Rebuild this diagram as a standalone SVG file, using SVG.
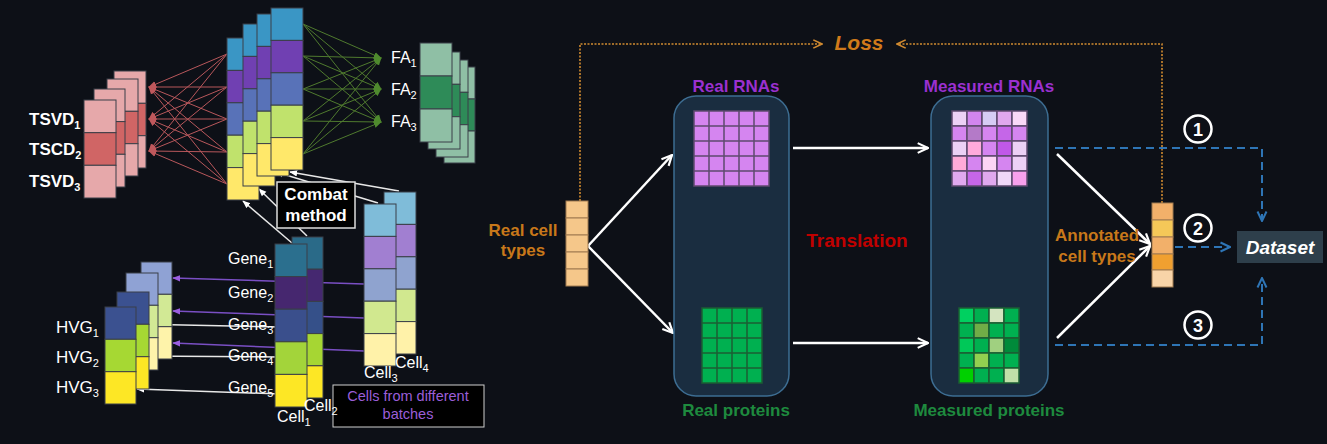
<svg xmlns="http://www.w3.org/2000/svg" width="1327" height="444" viewBox="0 0 1327 444">
<style>
.lbl{font-family:"Liberation Sans",Arial,sans-serif;fill:#fff;font-size:16px}
.b{font-weight:bold}
.sub{font-size:11px}
.seg{stroke:#3a3f48;stroke-width:1}
.rl{stroke:#b8575b;stroke-width:1}
.gl{stroke:#4f7a2e;stroke-width:1}
.wl{stroke:#e8e8e8;stroke-width:1.5;fill:none}
.pl{stroke:#7a4fc4;stroke-width:1.5;fill:none}
.wa{stroke:#fff;stroke-width:2.5;fill:none}
.bd{stroke:#2e75b6;stroke-width:2;stroke-dasharray:8 5;fill:none}
.od{stroke:#d08a30;stroke-width:1.6;stroke-dasharray:2 1.5;fill:none}
.rd{stroke:#c00000;stroke-width:2.5;stroke-dasharray:10 5;fill:none}
.cont{fill:#1a2d40;stroke:#3d6d92;stroke-width:1.5}
.ttl{font-family:"Liberation Sans",Arial,sans-serif;font-weight:bold;font-size:17px;text-anchor:middle}
</style>
<defs>
<marker id="ow" viewBox="0 0 12 12" refX="11" refY="6" markerWidth="13" markerHeight="13" markerUnits="userSpaceOnUse" orient="auto"><path d="M1.5,1.5 L11,6 L1.5,10.5" fill="none" stroke="#fff" stroke-width="2"/></marker>
<marker id="ob" viewBox="0 0 12 12" refX="11" refY="6" markerWidth="12" markerHeight="12" markerUnits="userSpaceOnUse" orient="auto"><path d="M1.5,1.5 L11,6 L1.5,10.5" fill="none" stroke="#2e75b6" stroke-width="2"/></marker>
<marker id="oo" viewBox="0 0 12 12" refX="11" refY="6" markerWidth="11" markerHeight="11" markerUnits="userSpaceOnUse" orient="auto"><path d="M1.5,1.5 L11,6 L1.5,10.5" fill="none" stroke="#d08a30" stroke-width="1.8"/></marker>
<marker id="orr" viewBox="0 0 12 12" refX="11" refY="6" markerWidth="12" markerHeight="12" markerUnits="userSpaceOnUse" orient="auto"><path d="M1.5,1.5 L11,6 L1.5,10.5" fill="none" stroke="#c00000" stroke-width="2.4"/></marker>
<marker id="fr" viewBox="0 0 10 10" refX="9" refY="5" markerWidth="8" markerHeight="8" markerUnits="userSpaceOnUse" orient="auto"><path d="M0,1 L10,5 L0,9 z" fill="#c0585c"/></marker>
<marker id="fg" viewBox="0 0 10 10" refX="9" refY="5" markerWidth="8" markerHeight="8" markerUnits="userSpaceOnUse" orient="auto"><path d="M0,1 L10,5 L0,9 z" fill="#4f8a2e"/></marker>
<marker id="fw" viewBox="0 0 10 10" refX="9" refY="5" markerWidth="8" markerHeight="8" markerUnits="userSpaceOnUse" orient="auto"><path d="M0,1 L10,5 L0,9 z" fill="#fff"/></marker>
<marker id="fp" viewBox="0 0 10 10" refX="9" refY="5" markerWidth="8" markerHeight="8" markerUnits="userSpaceOnUse" orient="auto"><path d="M0,1 L10,5 L0,9 z" fill="#9b5ee0"/></marker>
</defs>
<rect width="1327" height="444" fill="#0d1017"/>

<g id="connectors">
<g class="rl" marker-end="url(#fr)">
<line x1="227" y1="54" x2="149" y2="87"/><line x1="227" y1="87" x2="149" y2="87"/><line x1="227" y1="119" x2="149" y2="87"/><line x1="227" y1="152" x2="149" y2="87"/><line x1="227" y1="184" x2="149" y2="87"/>
<line x1="227" y1="54" x2="149" y2="119"/><line x1="227" y1="87" x2="149" y2="119"/><line x1="227" y1="119" x2="149" y2="119"/><line x1="227" y1="152" x2="149" y2="119"/><line x1="227" y1="184" x2="149" y2="119"/>
<line x1="227" y1="54" x2="149" y2="151"/><line x1="227" y1="87" x2="149" y2="151"/><line x1="227" y1="119" x2="149" y2="151"/><line x1="227" y1="152" x2="149" y2="151"/><line x1="227" y1="184" x2="149" y2="151"/>
</g>
<g class="gl" marker-end="url(#fg)">
<line x1="303" y1="24" x2="381" y2="58"/><line x1="303" y1="56" x2="381" y2="58"/><line x1="303" y1="89" x2="381" y2="58"/><line x1="303" y1="121" x2="381" y2="58"/><line x1="303" y1="154" x2="381" y2="58"/>
<line x1="303" y1="24" x2="381" y2="89"/><line x1="303" y1="56" x2="381" y2="89"/><line x1="303" y1="89" x2="381" y2="89"/><line x1="303" y1="121" x2="381" y2="89"/><line x1="303" y1="154" x2="381" y2="89"/>
<line x1="303" y1="24" x2="381" y2="122"/><line x1="303" y1="56" x2="381" y2="122"/><line x1="303" y1="89" x2="381" y2="122"/><line x1="303" y1="121" x2="381" y2="122"/><line x1="303" y1="154" x2="381" y2="122"/>
</g>
<g class="wl" marker-end="url(#fw)">
<line x1="292" y1="243" x2="243" y2="201"/>
<line x1="307" y1="236" x2="259" y2="189"/>
<line x1="378" y1="203" x2="276" y2="172"/>
<line x1="399" y1="191" x2="290" y2="172"/>
</g>
<g class="pl" marker-end="url(#fp)">
<line x1="364" y1="284" x2="173" y2="278"/>
<line x1="364" y1="318" x2="173" y2="311"/>
<line x1="364" y1="351" x2="173" y2="343"/>
</g>
<g class="wl" marker-end="url(#fw)">
<line x1="282" y1="327" x2="134" y2="324"/>
<line x1="282" y1="357" x2="137" y2="356"/>
<line x1="281" y1="394" x2="137" y2="389"/>
</g>
<path class="od" d="M580,201 V44 H822" marker-end="url(#oo)"/>
<path class="od" d="M1162,203 V44 H897" marker-end="url(#oo)"/>
<line class="wa" x1="588" y1="246" x2="672" y2="155" marker-end="url(#ow)"/>
<line class="wa" x1="588" y1="246" x2="673" y2="333" marker-end="url(#ow)"/>
<line class="wa" x1="793" y1="148" x2="928" y2="148" marker-end="url(#ow)"/>
<line class="wa" x1="793" y1="343" x2="928" y2="343" marker-end="url(#ow)"/>
<line class="wa" x1="1057" y1="154" x2="1150" y2="244" marker-end="url(#ow)"/>
<line class="wa" x1="1057" y1="338" x2="1150" y2="246" marker-end="url(#ow)"/>
<line class="rd" x1="732" y1="199" x2="732" y2="292" marker-end="url(#orr)"/>
<line class="rd" x1="989" y1="199" x2="989" y2="292" marker-end="url(#orr)"/>
<path class="bd" d="M1055,148 H1262 V221" marker-end="url(#ob)"/>
<path class="bd" d="M1055,345 H1262 V278" marker-end="url(#ob)"/>
<line class="bd" x1="1175" y1="247" x2="1230" y2="247" marker-end="url(#ob)"/>
</g>

<g id="tsvd-stack" class="seg">
<rect x="114" y="71" width="32" height="32.3" fill="#e6a8aa"/><rect x="114" y="103.3" width="32" height="32.4" fill="#d06565"/><rect x="114" y="135.7" width="32" height="32.3" fill="#e6a8aa"/>
<rect x="107" y="79" width="31" height="32.3" fill="#e6a8aa"/><rect x="107" y="111.3" width="31" height="32.4" fill="#d06565"/><rect x="107" y="143.7" width="31" height="32.3" fill="#e6a8aa"/>
<rect x="94" y="89" width="31" height="32.6" fill="#e6a8aa"/><rect x="94" y="121.6" width="31" height="32.7" fill="#d06565"/><rect x="94" y="154.3" width="31" height="32.7" fill="#e6a8aa"/>
<rect x="84" y="100" width="32" height="32.7" fill="#e6a8aa"/><rect x="84" y="132.7" width="32" height="32.6" fill="#d06565"/><rect x="84" y="165.3" width="32" height="32.7" fill="#e6a8aa"/>
</g>
<g id="tsvd-labels" class="lbl b" style="font-size:17px">
<text x="29" y="125">TSVD<tspan class="sub" dy="4">1</tspan></text>
<text x="29" y="155">TSCD<tspan class="sub" dy="4">2</tspan></text>
<text x="29" y="187">TSVD<tspan class="sub" dy="4">3</tspan></text>
</g>

<g id="combat-stack" class="seg">
<g transform="translate(227,38)"><rect width="32" height="32.4" fill="#3a96c5"/><rect y="32.4" width="32" height="32.4" fill="#7040b2"/><rect y="64.8" width="32" height="32.4" fill="#5872b8"/><rect y="97.2" width="32" height="32.4" fill="#c0e26c"/><rect y="129.6" width="32" height="32.4" fill="#ffe86a"/></g>
<g transform="translate(243,24)"><rect width="32" height="32.4" fill="#3a96c5"/><rect y="32.4" width="32" height="32.4" fill="#7040b2"/><rect y="64.8" width="32" height="32.4" fill="#5872b8"/><rect y="97.2" width="32" height="32.4" fill="#c0e26c"/><rect y="129.6" width="32" height="32.4" fill="#ffe86a"/></g>
<g transform="translate(257,14)"><rect width="32" height="32.4" fill="#3a96c5"/><rect y="32.4" width="32" height="32.4" fill="#7040b2"/><rect y="64.8" width="32" height="32.4" fill="#5872b8"/><rect y="97.2" width="32" height="32.4" fill="#c0e26c"/><rect y="129.6" width="32" height="32.4" fill="#ffe86a"/></g>
<g transform="translate(271,8)"><rect width="32" height="32.4" fill="#3a96c5"/><rect y="32.4" width="32" height="32.4" fill="#7040b2"/><rect y="64.8" width="32" height="32.4" fill="#5872b8"/><rect y="97.2" width="32" height="32.4" fill="#c0e26c"/><rect y="129.6" width="32" height="32.4" fill="#ffe86a"/></g>
</g>

<g id="fa-stack" class="seg">
<rect x="444" y="67" width="31" height="32" fill="#8fbfa5"/><rect x="444" y="99" width="31" height="32" fill="#2e8b58"/><rect x="444" y="131" width="31" height="32" fill="#8fbfa5"/>
<rect x="436" y="60" width="32" height="32.3" fill="#8fbfa5"/><rect x="436" y="92.3" width="32" height="32.4" fill="#2e8b58"/><rect x="436" y="124.7" width="32" height="32.3" fill="#8fbfa5"/>
<rect x="428" y="52" width="32" height="32.3" fill="#8fbfa5"/><rect x="428" y="84.3" width="32" height="32.4" fill="#2e8b58"/><rect x="428" y="116.7" width="32" height="32.3" fill="#8fbfa5"/>
<rect x="420" y="43" width="32" height="33" fill="#8fbfa5"/><rect x="420" y="76" width="32" height="33" fill="#2e8b58"/><rect x="420" y="109" width="32" height="33" fill="#8fbfa5"/>
</g>
<g id="fa-labels" class="lbl">
<text x="391" y="63">FA<tspan class="sub" dy="4">1</tspan></text>
<text x="391" y="95">FA<tspan class="sub" dy="4">2</tspan></text>
<text x="391" y="127">FA<tspan class="sub" dy="4">3</tspan></text>
</g>

<g id="gene-stack" class="seg">
<g transform="translate(292,237)"><rect width="31" height="32.2" fill="#2a6a88"/><rect y="32.2" width="31" height="32.2" fill="#452870"/><rect y="64.4" width="31" height="32.2" fill="#355089"/><rect y="96.6" width="31" height="32.2" fill="#a6d633"/><rect y="128.8" width="31" height="32.2" fill="#fde725"/></g>
<g transform="translate(275,244)"><rect width="32" height="32.6" fill="#2b6f8e"/><rect y="32.6" width="32" height="32.6" fill="#46276f"/><rect y="65.2" width="32" height="32.6" fill="#3a4f8c"/><rect y="97.8" width="32" height="32.6" fill="#a3d43a"/><rect y="130.4" width="32" height="32.6" fill="#fde725"/></g>
</g>

<g id="batch-stack" class="seg">
<g transform="translate(384,192)"><rect width="32" height="32.4" fill="#7fbcd9"/><rect y="32.4" width="32" height="32.4" fill="#a17fd1"/><rect y="64.8" width="32" height="32.4" fill="#8fa3cf"/><rect y="97.2" width="32" height="32.4" fill="#d1e88f"/><rect y="129.6" width="32" height="32.4" fill="#fff2a9"/></g>
<g transform="translate(364,204)"><rect width="32" height="32.4" fill="#7fbcd9"/><rect y="32.4" width="32" height="32.4" fill="#a17fd1"/><rect y="64.8" width="32" height="32.4" fill="#8fa3cf"/><rect y="97.2" width="32" height="32.4" fill="#d1e88f"/><rect y="129.6" width="32" height="32.4" fill="#fff2a9"/></g>
</g>
<g id="batch-labels" class="lbl">
<text x="364" y="378">Cell<tspan class="sub" dy="4">3</tspan></text>
<text x="395" y="368">Cell<tspan class="sub" dy="4">4</tspan></text>
</g>

<g id="hvg-stack" class="seg">
<rect x="141" y="262" width="31" height="32.3" fill="#8fa2d4"/><rect x="141" y="294.3" width="31" height="32.4" fill="#d2e995"/><rect x="141" y="326.7" width="31" height="32.3" fill="#fef3aa"/>
<rect x="126" y="273" width="32" height="32.3" fill="#8fa2d4"/><rect x="126" y="305.3" width="32" height="32.4" fill="#d2e995"/><rect x="126" y="337.7" width="32" height="32.3" fill="#fef3aa"/>
<rect x="117" y="292" width="32" height="32.3" fill="#3b5190"/><rect x="117" y="324.3" width="32" height="32.4" fill="#a6d833"/><rect x="117" y="356.7" width="32" height="32.3" fill="#fde725"/>
<rect x="105" y="307" width="31" height="32.3" fill="#3b5190"/><rect x="105" y="339.3" width="31" height="32.4" fill="#a6d833"/><rect x="105" y="371.7" width="31" height="32.3" fill="#fde725"/>
</g>
<g id="hvg-labels" class="lbl" style="font-size:17px">
<text x="56" y="333">HVG<tspan class="sub" dy="4">1</tspan></text>
<text x="56" y="363">HVG<tspan class="sub" dy="4">2</tspan></text>
<text x="56" y="393">HVG<tspan class="sub" dy="4">3</tspan></text>
</g>

<g id="combat-method">
<rect x="277" y="182" width="78" height="46" fill="#000" stroke="#ddd" stroke-width="1.5"/>
<text class="lbl b" x="316" y="200" text-anchor="middle" style="font-size:17px">Combat</text>
<text class="lbl b" x="316" y="221" text-anchor="middle" style="font-size:17px">method</text>
</g>

<g id="batch-note">
<rect x="333" y="385" width="151" height="42" fill="#000" stroke="#cfcfcf" stroke-width="1"/>
<text class="lbl" x="408" y="401" text-anchor="middle" style="font-size:14.5px;fill:#9b5ed8">Cells from different</text>
<text class="lbl" x="408" y="419" text-anchor="middle" style="font-size:14.5px;fill:#9b5ed8">batches</text>
</g>

<g id="gene-labels" class="lbl">
<text x="228" y="264">Gene<tspan class="sub" dy="4">1</tspan></text>
<text x="228" y="298">Gene<tspan class="sub" dy="4">2</tspan></text>
<text x="228" y="330">Gene<tspan class="sub" dy="4">3</tspan></text>
<text x="228" y="361">Gene<tspan class="sub" dy="4">4</tspan></text>
<text x="228" y="393">Gene<tspan class="sub" dy="4">5</tspan></text>
<text x="277" y="422">Cell<tspan class="sub" dy="4">1</tspan></text>
<text x="304" y="411">Cell<tspan class="sub" dy="4">2</tspan></text>
</g>

<g id="loss">
<text x="859" y="50" text-anchor="middle" style="font-family:'Liberation Sans',Arial,sans-serif;font-weight:bold;font-style:italic;font-size:21px;fill:#d07a1a">Loss</text>
</g>

<g id="real-cell-types">
<g fill="#f5c78a" stroke="#a07a50" stroke-width="1">
<rect x="566" y="201" width="22" height="17"/><rect x="566" y="218" width="22" height="17"/><rect x="566" y="235" width="22" height="17"/><rect x="566" y="252" width="22" height="17"/><rect x="566" y="269" width="22" height="17"/>
</g>
<text class="ttl" x="523" y="236" fill="#c8781a">Real cell</text>
<text class="ttl" x="523" y="256" fill="#c8781a">types</text>
</g>

<g id="real-container">
<rect class="cont" x="674" y="96" width="115" height="300" rx="22"/>
<text class="ttl" x="736" y="92" fill="#9b30d0">Real RNAs</text>
<rect x="694" y="111" width="75" height="75" fill="#d585f0" stroke="#5e4a6e" stroke-width="1.5"/>
<path d="M709,111V186M724,111V186M739,111V186M754,111V186M694,126H769M694,141H769M694,156H769M694,171H769" stroke="#5e4a6e" stroke-width="1.5"/>
<rect x="702" y="308" width="60" height="75" fill="#00b050" stroke="#1b5e33" stroke-width="1.5"/>
<path d="M717,308V383M732,308V383M747,308V383M702,323H762M702,338H762M702,353H762M702,368H762" stroke="#1b5e33" stroke-width="1.5"/>
<text class="ttl" x="736" y="416" fill="#1e8a3e">Real proteins</text>
</g>

<g id="translation">
<text class="ttl" x="857" y="247" fill="#c00000" style="font-size:19px">Translation</text>
</g>

<g id="measured-container">
<rect class="cont" x="931" y="96" width="117" height="300" rx="22"/>
<text class="ttl" x="989" y="92" fill="#9b30d0">Measured RNAs</text>
<g stroke="#5e4a6e" stroke-width="1.5">
<rect x="952" y="111" width="15" height="15" fill="#ecd0f5"/><rect x="967" y="111" width="15" height="15" fill="#d185ee"/><rect x="982" y="111" width="15" height="15" fill="#d6ccf4"/><rect x="997" y="111" width="15" height="15" fill="#e0a8ee"/><rect x="1012" y="111" width="15" height="15" fill="#fad8f8"/>
<rect x="952" y="126" width="15" height="15" fill="#d585f0"/><rect x="967" y="126" width="15" height="15" fill="#b47ac8"/><rect x="982" y="126" width="15" height="15" fill="#d585f0"/><rect x="997" y="126" width="15" height="15" fill="#c566e8"/><rect x="1012" y="126" width="15" height="15" fill="#d585f0"/>
<rect x="952" y="141" width="15" height="15" fill="#ecd0f5"/><rect x="967" y="141" width="15" height="15" fill="#ffaadc"/><rect x="982" y="141" width="15" height="15" fill="#d585f0"/><rect x="997" y="141" width="15" height="15" fill="#c058e8"/><rect x="1012" y="141" width="15" height="15" fill="#ecd0f5"/>
<rect x="952" y="156" width="15" height="15" fill="#ffaad8"/><rect x="967" y="156" width="15" height="15" fill="#d585f0"/><rect x="982" y="156" width="15" height="15" fill="#fcd4f4"/><rect x="997" y="156" width="15" height="15" fill="#d585f0"/><rect x="1012" y="156" width="15" height="15" fill="#ecd0f5"/>
<rect x="952" y="171" width="15" height="15" fill="#e0a8ee"/><rect x="967" y="171" width="15" height="15" fill="#c566e8"/><rect x="982" y="171" width="15" height="15" fill="#e0a8ee"/><rect x="997" y="171" width="15" height="15" fill="#f0d8f8"/><rect x="1012" y="171" width="15" height="15" fill="#f8a0ec"/>
</g>
<g stroke="#1b5e33" stroke-width="1.5">
<rect x="959" y="308" width="15" height="15" fill="#00d060"/><rect x="974" y="308" width="15" height="15" fill="#00b050"/><rect x="989" y="308" width="15" height="15" fill="#d4e4c0"/><rect x="1004" y="308" width="15" height="15" fill="#00b050"/>
<rect x="959" y="323" width="15" height="15" fill="#00b050"/><rect x="974" y="323" width="15" height="15" fill="#70ad47"/><rect x="989" y="323" width="15" height="15" fill="#00b050"/><rect x="1004" y="323" width="15" height="15" fill="#00b050"/>
<rect x="959" y="338" width="15" height="15" fill="#00c858"/><rect x="974" y="338" width="15" height="15" fill="#00b050"/><rect x="989" y="338" width="15" height="15" fill="#a0d080"/><rect x="1004" y="338" width="15" height="15" fill="#008a3a"/>
<rect x="959" y="353" width="15" height="15" fill="#00b050"/><rect x="974" y="353" width="15" height="15" fill="#92d050"/><rect x="989" y="353" width="15" height="15" fill="#00b050"/><rect x="1004" y="353" width="15" height="15" fill="#00b050"/>
<rect x="959" y="368" width="15" height="15" fill="#00d000"/><rect x="974" y="368" width="15" height="15" fill="#00b050"/><rect x="989" y="368" width="15" height="15" fill="#00b050"/><rect x="1004" y="368" width="15" height="15" fill="#c0e0a8"/>
</g>
<text class="ttl" x="989" y="416" fill="#1e8a3e">Measured proteins</text>
</g>

<g id="annotated-cell-types">
<g stroke="#a07a50" stroke-width="1">
<rect x="1152" y="203" width="21" height="17" fill="#f2b06a"/><rect x="1152" y="220" width="21" height="17" fill="#f5c858"/><rect x="1152" y="237" width="21" height="17" fill="#f2b06a"/><rect x="1152" y="254" width="21" height="16" fill="#f0a030"/><rect x="1152" y="270" width="21" height="17" fill="#f8d4a8"/>
</g>
<text class="ttl" x="1097" y="241" fill="#c8781a">Annotated</text>
<text class="ttl" x="1097" y="262" fill="#c8781a">cell types</text>
</g>

<g id="options">
<g fill="none" stroke="#fff" stroke-width="2.5">
<circle cx="1198" cy="129" r="13.5"/><circle cx="1198" cy="228" r="13.5"/><circle cx="1198" cy="325" r="13.5"/>
</g>
<g class="lbl b" text-anchor="middle" style="font-size:18px">
<text x="1198" y="135.5">1</text><text x="1198" y="234.5">2</text><text x="1198" y="331.5">3</text>
</g>
</g>

<g id="dataset">
<rect x="1237" y="231" width="86" height="32" fill="#2e3f4b"/>
<text x="1280" y="254" text-anchor="middle" style="font-family:'Liberation Sans',Arial,sans-serif;font-weight:bold;font-style:italic;font-size:19px;fill:#fff">Dataset</text>
</g>
</svg>
